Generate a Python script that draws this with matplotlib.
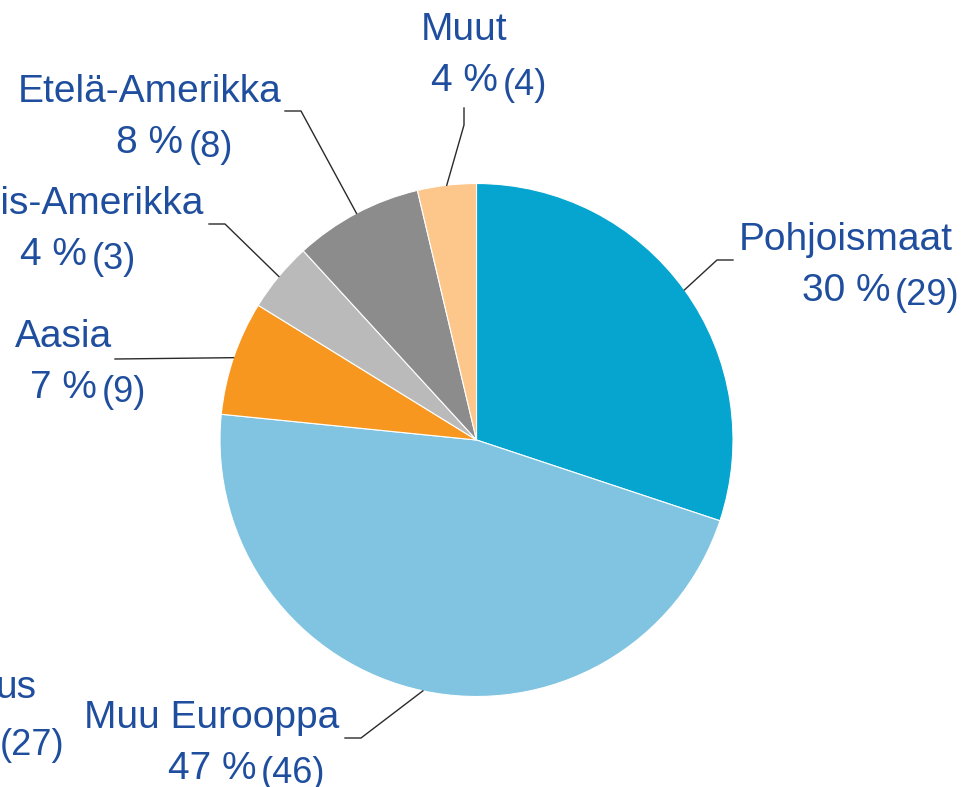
import numpy as np
import matplotlib
matplotlib.use("Agg")
import matplotlib.pyplot as plt

plt.rcParams['font.family'] = ['Liberation Sans', 'DejaVu Sans']

# alueet myötäpäivään klo 12:sta alkaen
alueet = ['Pohjoismaat', 'Muu Eurooppa', 'Aasia', 'Pohjois-Amerikka', 'Etelä-Amerikka', 'Muut']
osuudet = [30.1, 46.5, 7.2, 4.4, 8.1, 3.7]
prosentit = ['30 %', '47 %', '7 %', '4 %', '8 %', '4 %']
lukumaarat = ['(29)', '(46)', '(9)', '(3)', '(8)', '(4)']
varit = ['#05A5D0', '#80C4E1', '#F7971F', '#BABABA', '#8C8C8C', '#FDC68B']

tekstivari = '#1F4E9E'

# tekstien paikat (pikseleinä, y alaspäin): keskikohta x, nimen peruslinja y
paikat = [(846, 250), (212, 728), (63, 347), (53, 214), (150, 102), (464, 40)]
# johtoviivan alku ja taite
viivat = [[(733, 260), (717, 260)],
          [(345, 738), (361, 738)],
          [(115, 359)],
          [(209, 224), (225, 224)],
          [(285, 111), (301, 111)],
          [(464, 108), (464, 125)]]

fig = plt.figure(figsize=(9.73, 7.87), dpi=100)
ax = fig.add_axes([0, 0, 1, 1])

cx, cy, r = 476.5, 440, 256.5
# y-akseli käännetty, joten counterclock=True piirtää näkyvästi myötäpäivään
wedges, _ = ax.pie(osuudet, colors=varit, startangle=-90, counterclock=True,
                   center=(cx, cy), radius=r,
                   wedgeprops=dict(edgecolor='white', linewidth=0.8))

ax.set_xlim(0, 973)
ax.set_ylim(787, 0)
ax.set_aspect('equal')
ax.axis('off')

for i in range(len(alueet)):
    x, y = paikat[i]
    ax.text(x, y, alueet[i], color=tekstivari, fontsize=28, ha='center', va='baseline')
    pt = ax.text(x, y + 51, prosentit[i], color=tekstivari, fontsize=28, ha='center', va='baseline')
    ax.annotate(lukumaarat[i], xy=(1, 0), xycoords=pt, xytext=(3.5, -3),
                textcoords='offset points', color=tekstivari, fontsize=26,
                ha='left', va='bottom')

    w = wedges[i]
    kulma = np.deg2rad((w.theta1 + w.theta2) / 2)
    reuna = (cx + r * np.cos(kulma), cy + r * np.sin(kulma))
    pisteet = viivat[i] + [reuna]
    ax.plot([p[0] for p in pisteet], [p[1] for p in pisteet], color='#2a2a2a', lw=1)

# vasemmasta reunasta rajautunut viereinen kuvio
ax.text(36, 698, 'us', color=tekstivari, fontsize=28, ha='right', va='baseline')
ax.text(0, 755, '(27)', color=tekstivari, fontsize=26, ha='left', va='baseline')

fig.savefig('out.png', dpi=100)
